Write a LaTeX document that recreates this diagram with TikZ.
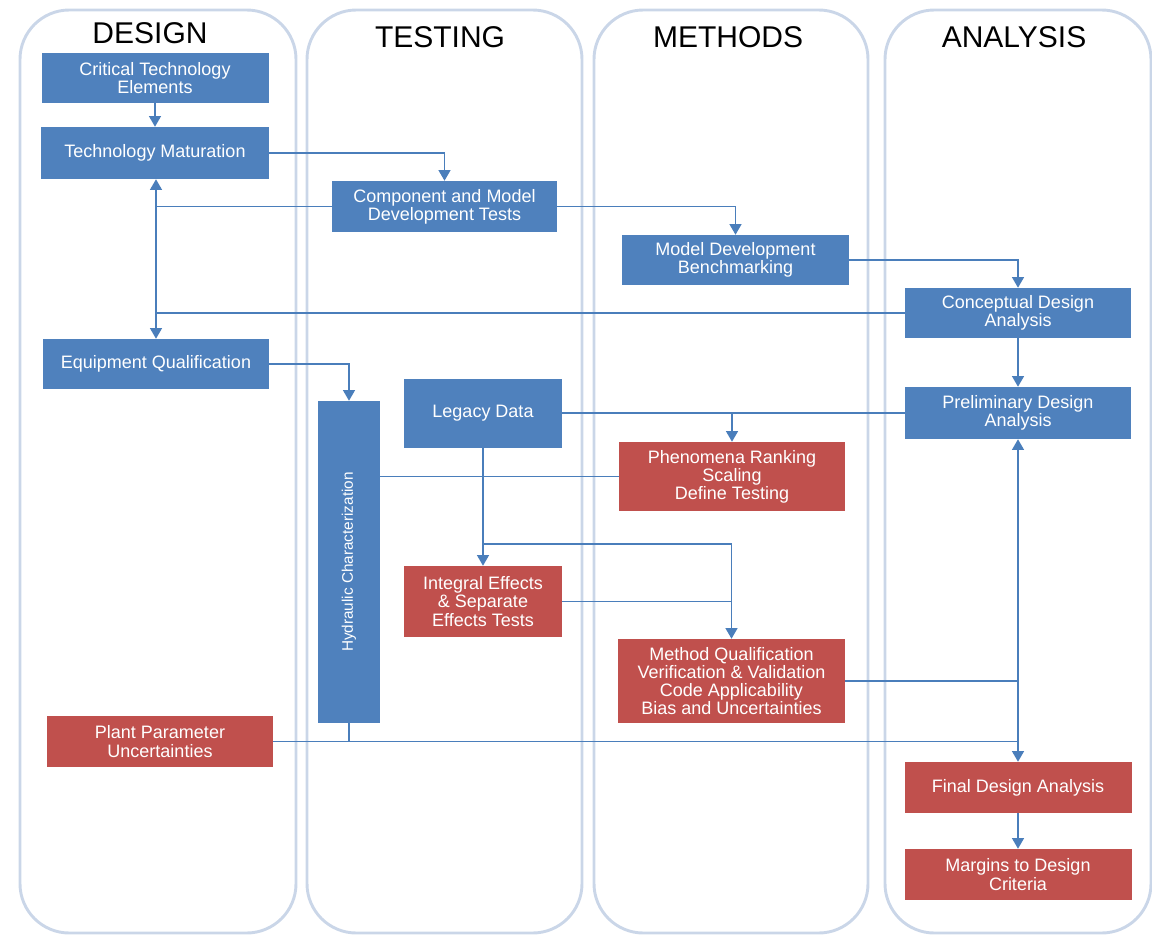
\documentclass[tikz,border=0pt]{standalone}
\usepackage{fontspec}
\setmainfont{Liberation Sans}
\usetikzlibrary{arrows.meta}
\definecolor{bbl}{HTML}{4F81BD}
\definecolor{rrd}{HTML}{C0504D}
\definecolor{lanec}{HTML}{CAD6E8}
\definecolor{linec}{HTML}{4A7EBB}
\tikzset{
  lane/.style={draw=lanec, line width=2.2pt, rounded corners=37pt},
  title/.style={font=\fontsize{22.5}{24}\selectfont, text=black, inner sep=0pt},
  box/.style={rectangle, inner sep=1pt, text=white, align=center,
    font=\fontsize{13.5}{13.6}\selectfont},
  bluebox/.style={box, fill=bbl},
  redbox/.style={box, fill=rrd},
  conn/.style={draw=linec, line width=1pt},
  arr/.style={conn, -{Triangle[width=9pt,length=8pt]}}
}
\begin{document}
\begin{tikzpicture}[x=0.75pt,y=-0.75pt]
\useasboundingbox (0,0) rectangle (1152,935);
% lanes
\draw[lane] (20,10) rectangle (296,933);
\draw[lane] (307,10) rectangle (582,933);
\draw[lane] (594,10) rectangle (868,933);
\draw[lane] (885,10) rectangle (1151,933);
\node[title] (tdesign) at (150,33) {DESIGN};
\node[title] (ttesting) at (440,37) {TESTING};
\node[title] (tmethods) at (728,37) {METHODS};
\node[title] (tanalysis) at (1014,37) {ANALYSIS};
% boxes
\node[bluebox, minimum width=170.25pt, minimum height=37.5pt] (cte) at (155,78) {Critical Technology\\Elements};
\node[bluebox, minimum width=171pt, minimum height=39pt] (tm) at (155,153) {Technology Maturation};
\node[bluebox, minimum width=168.75pt, minimum height=38.25pt] (cmdt) at (444.5,206.5) {Component and Model\\Development Tests};
\node[bluebox, minimum width=170.25pt, minimum height=37.5pt] (mdb) at (735.5,260) {Model Development\\Benchmarking};
\node[bluebox, minimum width=169.5pt, minimum height=37.5pt] (cda) at (1018,313) {Conceptual Design\\Analysis};
\node[bluebox, minimum width=169.5pt, minimum height=37.5pt] (eq) at (156,364) {Equipment Qualification};
\node[bluebox, minimum width=169.5pt, minimum height=39pt] (pda) at (1018,413) {Preliminary Design\\Analysis};
\node[bluebox, minimum width=46.5pt, minimum height=241.5pt] (hyd) at (349,562) {};
\node[text=white, rotate=90, font=\fontsize{11.5}{12}\selectfont] (hydt) at (hyd.center) {Hydraulic Characterization};
\node[bluebox, minimum width=118.5pt, minimum height=51.75pt] (leg) at (483,413) {Legacy Data};
\node[redbox, minimum width=169.5pt, minimum height=51.75pt] (phen) at (732,476.5) {Phenomena Ranking\\Scaling\\Define Testing};
\node[redbox, minimum width=118.5pt, minimum height=53.25pt] (ies) at (483,601.5) {Integral Effects\\\& Separate\\Effects Tests};
\node[redbox, minimum width=170.25pt, minimum height=63pt] (mq) at (731.5,681) {Method Qualification\\Verification \& Validation\\Code Applicability\\Bias and Uncertainties};
\node[redbox, minimum width=169.5pt, minimum height=38.25pt] (ppu) at (160,741.5) {Plant Parameter\\Uncertainties};
\node[redbox, minimum width=170.25pt, minimum height=38.25pt] (fda) at (1018,787.5) {Final Design Analysis};
\node[redbox, minimum width=170.25pt, minimum height=38.25pt] (mdc) at (1018,874.5) {Margins to Design\\Criteria};
% connectors
\draw[arr] (cte) -- (tm);
\draw[arr] (tm.east) -| (cmdt.north);
\coordinate (j1) at (eq.north |- cda.west);
\draw[conn] (cda.west) -- (j1);
\draw[arr] (j1) -- (j1 |- tm.south);
\draw[arr] (j1) -- (eq.north);
\draw[conn] (cmdt.west) -- (cmdt.west -| j1);
\draw[arr] (cmdt.east) -| (mdb.north);
\draw[arr] (mdb.east) -| (cda.north);
\draw[arr] (cda) -- (pda);
\draw[arr] (eq.east) -| (hyd.north);
\draw[conn] (leg.east) -- (pda.west);
\draw[arr] (leg.east -| phen.north) -- (phen.north);
\draw[conn] (hyd.east |- phen.west) -- (phen.west);
\draw[arr] (leg.south) -- (ies.north);
\coordinate (j2) at (483,544);
\draw[arr] (j2) -| (mq.north);
\draw[conn] (ies.east) -- (ies.east -| mq.north);
\coordinate (j3) at (fda.north |- mq.east);
\draw[conn] (mq.east) -- (j3);
\draw[arr] (j3) -- (pda.south);
\draw[arr] (j3) -- (fda.north);
\draw[conn] (ppu.east) -- (ppu.east -| fda.north);
\draw[conn] (hyd.south) -- (hyd.south |- ppu.east);
\draw[arr] (fda) -- (mdc);
\end{tikzpicture}
\end{document}
